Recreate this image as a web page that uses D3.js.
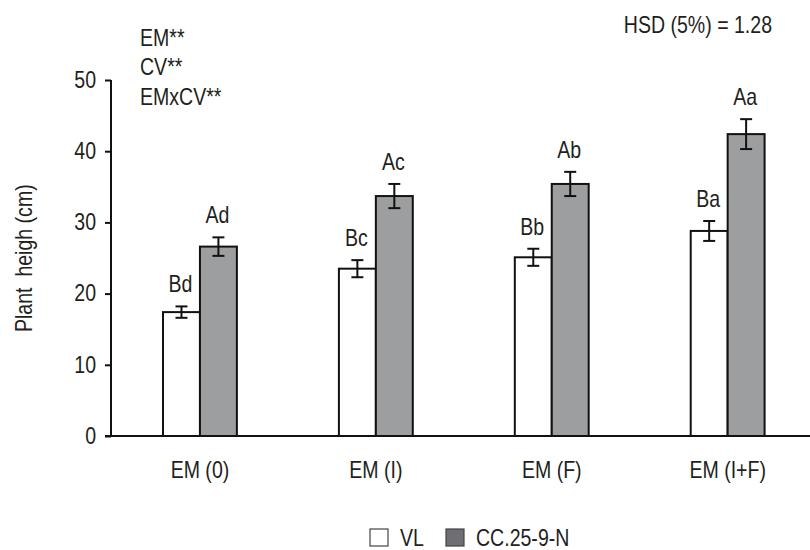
<!DOCTYPE html>
<html>
<head>
<meta charset="utf-8">
<script src="https://cdn.jsdelivr.net/npm/d3@7"></script>
<style>
  html, body { margin: 0; padding: 0; background: #fff; }
  svg text { font-family: "Liberation Sans", Arial, Helvetica, sans-serif; fill: #231f20; }
</style>
</head>
<body>
<svg id="chart" width="810" height="550"></svg>
<script>
// ---- data ----
const categories = ["EM (0)", "EM (I)", "EM (F)", "EM (I+F)"];
const seriesNames = ["VL", "CC.25-9-N"];
const vlValues = [17.4, 23.5, 25.1, 28.8];
const vlErrors = [0.8, 1.2, 1.2, 1.4];
const vlLetters = ["Bd", "Bc", "Bb", "Ba"];
const ccValues = [26.6, 33.7, 35.4, 42.4];
const ccErrors = [1.3, 1.7, 1.7, 2.1];
const ccLetters = ["Ad", "Ac", "Ab", "Aa"];
const yTicks = [0, 10, 20, 30, 40, 50];
const annotations = ["EM**", "CV**", "EMxCV**"];
const hsdText = "HSD (5%) = 1.28";
const yLabel = "Plant  heigh (cm)";

const colors = { "VL": "#ffffff", "CC.25-9-N": "#9c9e9f" };
const legendColors = { "VL": "#ffffff", "CC.25-9-N": "#6f6f73" };

const FS = 23;      // font size
const SX = 0.85;    // horizontal condensing of the font

const rows = [];
categories.forEach((c, i) => {
  rows.push({ cat: c, series: "VL", value: vlValues[i], err: vlErrors[i], letter: vlLetters[i] });
  rows.push({ cat: c, series: "CC.25-9-N", value: ccValues[i], err: ccErrors[i], letter: ccLetters[i] });
});

const svg = d3.select("#chart");

// helper: condensed text at (x,y)
function ctext(parent, x, y, str, anchor, rot) {
  return parent.append("text")
    .attr("transform", "translate(" + x + "," + y + ")" + (rot ? " rotate(" + rot + ")" : "") + " scale(" + SX + ",1)")
    .attr("text-anchor", anchor || "start")
    .attr("font-size", FS)
    .style("white-space", "pre")
    .text(str);
}

const x = d3.scaleBand().domain(categories).range([112, 815.6])
  .paddingInner(0.58).paddingOuter(0.29);
const xs = d3.scaleBand().domain(seriesNames).range([0, x.bandwidth()]);
const y = d3.scaleLinear().domain([0, 50]).range([436, 80]);

// bars
svg.append("g").selectAll("rect").data(rows).join("rect")
  .attr("x", d => x(d.cat) + xs(d.series))
  .attr("y", d => y(d.value))
  .attr("width", xs.bandwidth())
  .attr("height", d => y(0) - y(d.value))
  .attr("fill", d => colors[d.series])
  .attr("stroke", "#111")
  .attr("stroke-width", 2);

// error bars
const capW = 6;
const eg = svg.append("g").attr("stroke", "#111").attr("stroke-width", 2);
rows.forEach(d => {
  const cx = x(d.cat) + xs(d.series) + xs.bandwidth() / 2;
  const y1 = y(d.value + d.err), y2 = y(d.value - d.err);
  eg.append("line").attr("x1", cx).attr("x2", cx).attr("y1", y1).attr("y2", y2);
  eg.append("line").attr("x1", cx - capW).attr("x2", cx + capW).attr("y1", y1).attr("y2", y1);
  eg.append("line").attr("x1", cx - capW).attr("x2", cx + capW).attr("y1", y2).attr("y2", y2);
});

// letters
const lg0 = svg.append("g");
rows.forEach(d => {
  ctext(lg0, x(d.cat) + xs(d.series) + xs.bandwidth() / 2 - 1, y(d.value + d.err) - 14, d.letter, "middle");
});

// y axis
const yAxis = svg.append("g").attr("transform", "translate(111,0)")
  .call(d3.axisLeft(y).tickValues(yTicks).tickSize(6).tickPadding(9).tickFormat(d3.format("d")));
yAxis.select(".domain").attr("stroke", "#111").attr("stroke-width", 2).attr("d", "M0," + y(50) + "V" + y(0));
yAxis.selectAll(".tick line").attr("stroke", "#111").attr("stroke-width", 2);
yAxis.selectAll(".tick text").attr("font-size", FS).attr("fill", "#231f20")
  .attr("font-family", "Liberation Sans, Arial, sans-serif")
  .attr("x", -15 / SX).attr("transform", "scale(" + SX + ",1)");

// x axis
const xAxis = svg.append("g").attr("transform", "translate(0," + y(0) + ")")
  .call(d3.axisBottom(x).tickSize(0).tickPadding(26));
xAxis.select(".domain").attr("stroke", "#111").attr("stroke-width", 2).attr("d", "M105,0H810");
xAxis.selectAll(".tick text").attr("font-size", FS).attr("fill", "#231f20")
  .attr("font-family", "Liberation Sans, Arial, sans-serif")
  .attr("transform", "scale(" + SX + ",1)");

// y label
ctext(svg, 32, 332, yLabel, "start", -90);

// annotations
annotations.forEach((a, i) => ctext(svg, 140, 45.5 + i * 29.5, a, "start"));

// HSD
ctext(svg, 772, 33, hsdText, "end");

// legend
const legendX = [370, 446];
const lg = svg.append("g");
seriesNames.forEach((s, i) => {
  lg.append("rect").attr("x", legendX[i]).attr("y", 529).attr("width", 18).attr("height", 17)
    .attr("fill", legendColors[s]).attr("stroke", "#444").attr("stroke-width", 1.2);
  ctext(lg, legendX[i] + 30, 546, s, "start");
});
</script>
</body>
</html>
